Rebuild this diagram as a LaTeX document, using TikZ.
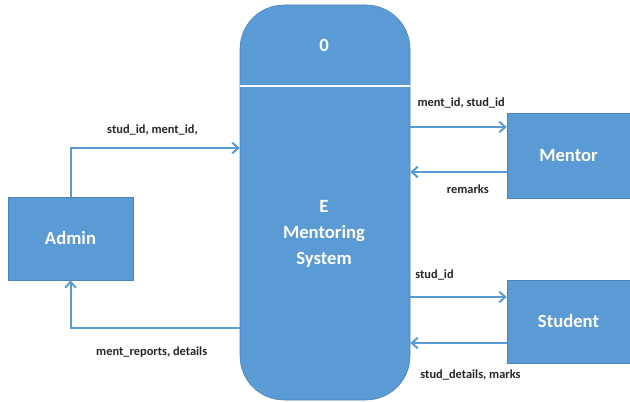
\documentclass[tikz,border=0pt]{standalone}
\usepackage{fontspec}
\setmainfont{Carlito}
\usetikzlibrary{arrows.meta,positioning}
\definecolor{dfdblue}{HTML}{5B9BD5}
\definecolor{dfdtext}{HTML}{262626}
\tikzstyle{entity} = [rectangle, draw=dfdblue!85!black, fill=dfdblue, text=white, font=\bfseries\fontsize{14}{17}\selectfont, inner sep=0pt]
\tikzstyle{process} = [rectangle, draw=dfdblue!85!black, fill=dfdblue, rounded corners=33pt, minimum width=127.5pt, minimum height=296.25pt]
\tikzstyle{ptext} = [text=white, font=\bfseries\fontsize{14}{19.5}\selectfont, align=center]
\tikzstyle{flow} = [draw=dfdblue, line width=1.5pt, -{Straight Barb[length=4.5pt,width=8pt,line width=1.5pt]}]
\tikzstyle{lbl} = [text=dfdtext, font=\bfseries\fontsize{9.3}{11}\selectfont, inner sep=0pt]

\begin{document}
\begin{tikzpicture}[x=0.75pt, y=-0.75pt]
    \useasboundingbox (0,0) rectangle (630,402);
    % process
    \node[process] (proc) at (325,202.5) {};
    \draw[white, line width=1pt] (proc.west |- 0,86) -- (proc.east |- 0,86);
    \node[ptext] (pnum) at (324,45) {0};
    \node[ptext] (pname) at (324,234) {E\\Mentoring\\System};
    % entities
    \node[entity, minimum width=93.75pt, minimum height=62.25pt] (admin) at (70.5,238.5) {Admin};
    \node[entity, minimum width=92.25pt, minimum height=63.75pt] (mentor) at (568.5,155.5) {Mentor};
    \node[entity, minimum width=92.25pt, minimum height=62.25pt] (student) at (568.5,321.5) {Student};

    \draw[flow] (admin.north) |- node[lbl, pos=0.76, above=9pt, xshift=-4.5pt] {stud\_id, ment\_id,} (proc.west |- 0,148);
    \draw[flow] (proc.west |- 0,328) -| node[lbl, pos=0.26, below=13pt] {ment\_reports, details} (admin.south);
    \draw[flow] (proc.east |- 0,127) -- node[lbl, above=13pt, xshift=2pt] {ment\_id, stud\_id} (mentor.west |- 0,127);
    \draw[flow] (mentor.west |- 0,172) -- node[lbl, below=9pt, xshift=7pt] {remarks} (proc.east |- 0,172);
    \draw[flow] (proc.east |- 0,297) -- node[lbl, above=12pt, xshift=-18pt] {stud\_id} (student.west |- 0,297);
    \draw[flow] (student.west |- 0,343) -- node[lbl, below=19pt, xshift=9pt] {stud\_details, marks} (proc.east |- 0,343);
\end{tikzpicture}
\end{document}
